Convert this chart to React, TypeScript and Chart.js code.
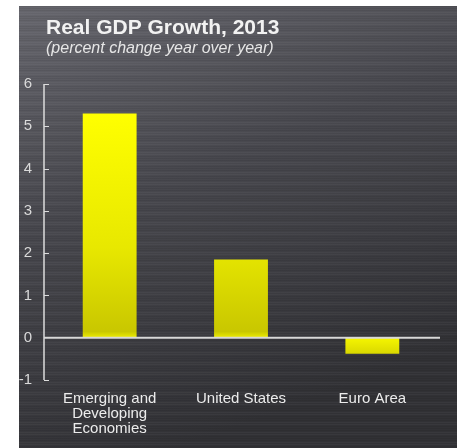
import React, { useEffect, useRef } from "react";
import { Chart, registerables } from "chart.js";

Chart.register(...registerables);

const categories: string[][] = [
  ["Emerging and", "Developing", "Economies"],
  ["United States"],
  ["Euro Area"],
];
const growth: number[] = [5.3, 1.85, -0.38];
const yTicks: number[] = [-1, 0, 1, 2, 3, 4, 5, 6];
const titleText = "Real GDP Growth, 2013";
const subtitleText = "(percent change year over year)";

const W = 459;
const H = 448;

const backgroundPlugin = {
  id: "panelBg",
  beforeDraw(chart: any) {
    const ctx = chart.ctx as CanvasRenderingContext2D;
    ctx.save();
    ctx.fillStyle = "#ffffff";
    ctx.fillRect(0, 0, W, H);
    const x0 = 19, y0 = 6, x1 = 457, y1 = H;
    const g = ctx.createLinearGradient(x0, y0, x0 + 160, y1);
    g.addColorStop(0, "#66666d");
    g.addColorStop(0.45, "#48484e");
    g.addColorStop(1, "#313135");
    ctx.fillStyle = g;
    ctx.fillRect(x0, y0, x1 - x0, y1 - y0);
    // brushed texture
    for (let y = y0; y < y1; y += 2) {
      const a = ((y * 7) % 5) / 5;
      ctx.fillStyle = a > 0.5 ? "rgba(255,255,255,0.035)" : "rgba(0,0,0,0.06)";
      ctx.fillRect(x0, y, x1 - x0, 1);
    }
    ctx.restore();
  },
  afterDraw(chart: any) {
    const ctx = chart.ctx as CanvasRenderingContext2D;
    const y = chart.scales.y;
    const area = chart.chartArea;
    ctx.save();
    // title
    ctx.fillStyle = "#f2f2f2";
    ctx.textBaseline = "alphabetic";
    ctx.textAlign = "left";
    ctx.font = "bold 21px 'Liberation Sans', Arial, sans-serif";
    ctx.fillText(titleText, 46, 34);
    ctx.font = "italic 16px 'Liberation Sans', Arial, sans-serif";
    ctx.fillStyle = "#e6e6e6";
    ctx.fillText(subtitleText, 46, 53);
    // y axis line and inner ticks
    ctx.strokeStyle = "#dcdcdc";
    ctx.lineWidth = 1.5;
    const ax = area.left;
    ctx.beginPath();
    ctx.moveTo(ax, y.getPixelForValue(yTicks[yTicks.length - 1]));
    ctx.lineTo(ax, y.getPixelForValue(yTicks[0]));
    ctx.stroke();
    ctx.lineWidth = 1;
    for (const t of yTicks) {
      if (t === 0) continue;
      const py = Math.round(y.getPixelForValue(t)) + 0.5;
      ctx.beginPath();
      ctx.moveTo(ax, py);
      ctx.lineTo(ax + 5, py);
      ctx.stroke();
    }
    // zero line
    const pz = y.getPixelForValue(0);
    ctx.lineWidth = 2;
    ctx.strokeStyle = "#d8d8d8";
    ctx.beginPath();
    ctx.moveTo(ax, pz);
    ctx.lineTo(area.right + 2, pz);
    ctx.stroke();
    ctx.restore();
  },
};

export default function App() {
  const ref = useRef<HTMLCanvasElement | null>(null);
  useEffect(() => {
    document.body.style.margin = "0";
    const canvas = ref.current!;
    const chart = new Chart(canvas, {
      type: "bar",
      data: {
        labels: categories,
        datasets: [
          {
            data: growth,
            backgroundColor: (c: any) => {
              const ch = c.chart;
              const area = ch.chartArea;
              if (!area) return "#ffff00";
              const ys = ch.scales.y;
              const top = ys.getPixelForValue(5.3);
              const zero = ys.getPixelForValue(0);
              const g = ch.ctx.createLinearGradient(0, top, 0, zero + 18);
              g.addColorStop(0, "#ffff00");
              g.addColorStop(0.55, "#e8e800");
              g.addColorStop(0.9, "#c9c700");
              g.addColorStop(0.93, "#f4f400");
              g.addColorStop(1, "#d6d400");
              return g;
            },
            borderWidth: 0,
            barPercentage: 0.41,
            categoryPercentage: 1,
          },
        ],
      },
      options: {
        animation: false,
        responsive: false,
        maintainAspectRatio: false,
        layout: { padding: { left: 0, right: 21, top: 84, bottom: 0 } },
        plugins: {
          legend: { display: false },
          tooltip: { enabled: false },
          title: { display: false },
        },
        scales: {
          x: {
            grid: { display: false, drawTicks: false },
            border: { display: false },
            ticks: {
              color: "#ececec",
              padding: 12,
              maxRotation: 0,
              autoSkip: false,
              font: { family: "'Liberation Sans', Arial, sans-serif", size: 15, lineHeight: 0.97 },
            },
            afterFit: (s: any) => {
              s.height = 68;
            },
          },
          y: {
            min: -1,
            max: 6,
            grid: { display: false, drawTicks: false },
            border: { display: false },
            ticks: {
              stepSize: 1,
              color: "#dadada",
              padding: 12,
              font: { family: "'Liberation Sans', Arial, sans-serif", size: 15 },
            },
            afterFit: (s: any) => {
              s.width = 44;
            },
          },
        },
      },
      plugins: [backgroundPlugin],
    } as any);
    return () => chart.destroy();
  }, []);
  return (
    <div style={{ width: W, height: H }}>
      <canvas ref={ref} width={W} height={H} style={{ display: "block", width: W, height: H }} />
    </div>
  );
}
